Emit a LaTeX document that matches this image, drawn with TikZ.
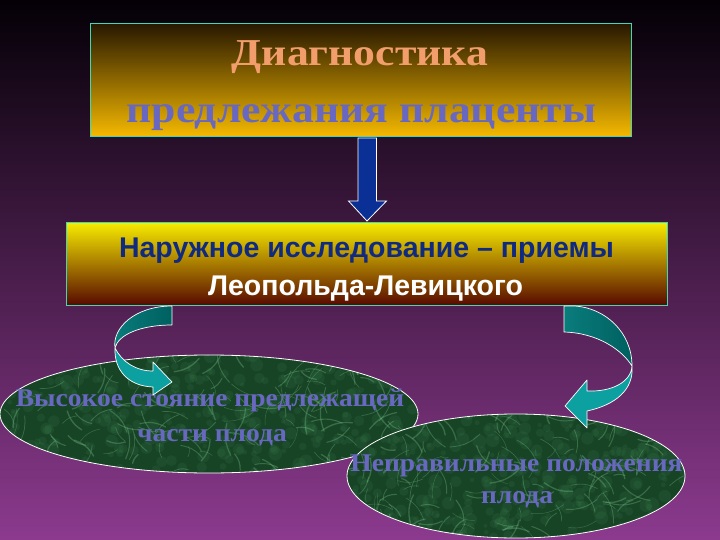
\documentclass[tikz,border=0pt]{standalone}
\usepackage{fontspec}
\setmainfont{Liberation Serif}
\newfontfamily\serifwide[FakeStretch=1.15]{Liberation Serif}
\newfontfamily\serifoval[FakeStretch=1.08]{Liberation Serif}
\newfontfamily\mysans{Liberation Sans}
\usetikzlibrary{shapes.geometric}
\definecolor{bgtop}{RGB}{4,0,6}
\definecolor{bgbot}{RGB}{140,58,142}
\definecolor{salmon}{RGB}{242,158,108}
\definecolor{slate}{RGB}{104,104,192}
\definecolor{navy}{RGB}{16,42,128}
\definecolor{frame}{RGB}{64,216,184}
\definecolor{gold}{RGB}{246,186,0}
\definecolor{darkgold}{RGB}{40,24,0}
\definecolor{lemon}{RGB}{246,234,0}
\definecolor{maroon}{RGB}{88,10,0}
\definecolor{arrowblue}{RGB}{10,48,150}
\definecolor{tealdark}{RGB}{0,96,96}
\definecolor{tealmid}{RGB}{10,124,124}
\definecolor{teallight}{RGB}{12,160,160}
\definecolor{moss}{RGB}{24,68,38}
\definecolor{blotch}{RGB}{70,140,90}
\definecolor{veincol}{RGB}{130,205,150}
\newcommand\mytexture[4]{%
  \begin{scope}
    \clip (#1,#2) ellipse [x radius=#3pt, y radius=#4pt];
    \foreach \i in {1,...,320}{
      \pgfmathsetmacro\px{#1+#3*rand}
      \pgfmathsetmacro\py{#2+#4*rand}
      \pgfmathsetmacro\rr{2+5*rnd}
      \fill[speck] (\px,\py) circle [radius=\rr pt];
    }
    \foreach \i in {1,...,160}{
      \pgfmathsetmacro\px{#1+#3*rand}
      \pgfmathsetmacro\py{#2+#4*rand}
      \pgfmathsetmacro\ang{180*rand}
      \pgfmathsetmacro\len{10+25*rnd}
      \pgfmathsetmacro\lw{0.4+1.0*rnd}
      \draw[vein, line width=\lw pt] (\px,\py) to[bend left=20] ++(\ang:\len pt);
    }
  \end{scope}}
\begin{document}
\begin{tikzpicture}[x=1pt,y=-1pt,
  boxframe/.style={draw=frame, line width=1pt, rectangle, inner sep=0pt},
  ovalnode/.style={ellipse, fill=moss, inner sep=0pt},
  ovalrim/.style={draw=white, line width=0.8pt},
  vein/.style={draw=veincol, opacity=0.3, line cap=round},
  speck/.style={fill=blotch, opacity=0.13},
  titlefont/.style={anchor=base, font=\serifwide\bfseries\fontsize{38}{44}\selectfont},
  examfont/.style={anchor=base, font=\mysans\bfseries\fontsize{28.5}{34}\selectfont},
  ovaltext/.style={anchor=base, text=slate, font=\serifoval\bfseries\fontsize{25.5}{30}\selectfont},
  twist/.style={draw=white, line width=0.7pt, line join=round}]
\useasboundingbox (0,0) rectangle (720,540);
\shade[top color=bgtop, bottom color=bgbot] (0,0) rectangle (720,540);
\pgfmathsetseed{7}

% title box
\node[boxframe, top color=darkgold, bottom color=gold,
      minimum width=541pt, minimum height=113pt] (title) at (360.5,80.5) {};
\node[titlefont, text=salmon] (titleA) at (360,66) {Диагностика};
\node[titlefont, text=slate] (titleB) at (361.5,123) {предлежания плаценты};

% second box
\node[boxframe, top color=lemon, bottom color=maroon,
      minimum width=601pt, minimum height=82pt] (exam) at (366.5,264) {};
\node[examfont, text=navy] (examA) at (366.5,257.8) {Наружное исследование – приемы};
\node[examfont, text=white] (examB) at (365.5,295.5) {Леопольда-Левицкого};

% down arrow
\draw[draw=white, line width=0.8pt, fill=arrowblue, line join=miter]
  (358,138) -- (376.5,138) -- (376.5,201) -- (386.5,201) -- (367,221)
  -- (348.5,201) -- (358,201) -- cycle;

% left ellipse
\node[ovalnode, minimum width=418pt, minimum height=118pt] (high) at (209,414) {};
\mytexture{209}{414}{209}{59}
\draw[ovalrim] (209,414) ellipse [x radius=209pt, y radius=59pt];
\node[ovaltext] (highA) at (210,406.5) {Высокое стояние предлежащей};
\node[ovaltext] (highB) at (212,441.5) {части плода};

% right ellipse
\node[ovalnode, minimum width=338pt, minimum height=124pt] (wrong) at (516,476) {};
\mytexture{516}{476}{169}{62}
\draw[ovalrim] (516,476) ellipse [x radius=169pt, y radius=62pt];
\node[ovaltext] (wrongA) at (516.5,471.5) {Неправильные положения};
\node[ovaltext] (wrongB) at (517,503.5) {плода};

% left curved arrow
\shade[left color=tealmid, right color=tealdark, twist]
  (172,306) -- (172,325) .. controls (140,325) and (118,335) .. (115,348)
  .. controls (112,328) and (135,306) .. cycle;
\fill[teallight, twist]
  (115,348) .. controls (122,362) and (136,371) .. (153,371)
  -- (153,362) -- (172,382) -- (153,395) -- (153,387)
  .. controls (128,386) and (114,370) .. (115,348);

% right curved arrow
\shade[left color=tealmid, right color=tealdark, twist]
  (564,306) -- (575,306) .. controls (605,308) and (632,332) .. (632,366)
  .. controls (622,350) and (598,333) .. (564,332) -- cycle;
\fill[teallight, twist]
  (632,366) .. controls (631,382) and (612,392) .. (587,391)
  -- (587,380) -- (565,406) -- (587,428) -- (587,411)
  .. controls (615,405) and (634,390) .. (632,366);
\end{tikzpicture}
\end{document}
